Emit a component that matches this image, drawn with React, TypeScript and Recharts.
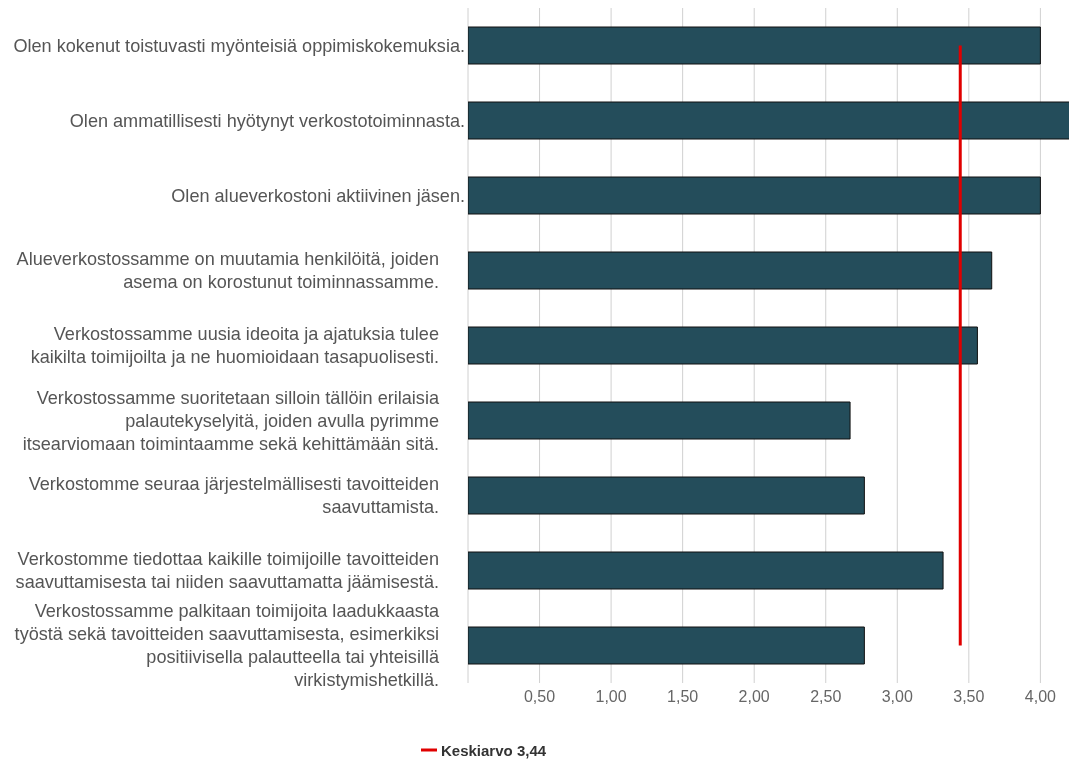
import * as React from 'react';
import { ComposedChart, Bar, Line, XAxis, YAxis, CartesianGrid, Legend } from 'recharts';

// labels with line breaks as in the original
const labels = [
  "Olen kokenut toistuvasti myönteisiä oppimiskokemuksia.",
  "Olen ammatillisesti hyötynyt verkostotoiminnasta.",
  "Olen alueverkostoni aktiivinen jäsen.",
  "Alueverkostossamme on muutamia henkilöitä, joiden\nasema on korostunut toiminnassamme.",
  "Verkostossamme uusia ideoita ja ajatuksia tulee\nkaikilta toimijoilta ja ne huomioidaan tasapuolisesti.",
  "Verkostossamme suoritetaan silloin tällöin erilaisia\npalautekyselyitä, joiden avulla pyrimme\nitsearviomaan toimintaamme sekä kehittämään sitä.",
  "Verkostomme seuraa järjestelmällisesti tavoitteiden\nsaavuttamista.",
  "Verkostomme tiedottaa kaikille toimijoille tavoitteiden\nsaavuttamisesta tai niiden saavuttamatta jäämisestä.",
  "Verkostossamme palkitaan toimijoita laadukkaasta\ntyöstä sekä tavoitteiden saavuttamisesta, esimerkiksi\npositiivisella palautteella tai yhteisillä\nvirkistymishetkillä.",
];

const values = [4.0, 4.25, 4.0, 3.66, 3.56, 2.67, 2.77, 3.32, 2.77];
const mean = 3.44;
const ticks = [0, 0.5, 1, 1.5, 2, 2.5, 3, 3.5, 4];

const data = labels.map((name, i) => ({ name, value: values[i], mean }));

const fmt = (v: number) => (v === 0 ? '' : v.toFixed(2).replace('.', ','));

const FONT = 'Liberation Sans, Arial, sans-serif';

const YTick = (props: any) => {
  const { y, payload } = props;
  const lines: string[] = String(payload.value).split('\n');
  const lh = 23;
  const endX = lines.length === 1 ? 457 : 431;
  const startY = y - ((lines.length - 1) * lh) / 2;
  return (
    <text x={endX} y={startY} textAnchor="end" dominantBaseline="central"
      fontSize={18.1} fill="#555" fontFamily={FONT}>
      {lines.map((l, i) => (
        <tspan key={i} x={endX} dy={i === 0 ? 0 : lh}>{l}</tspan>
      ))}
    </text>
  );
};

const LegendContent = () => (
  <div style={{ display: 'flex', alignItems: 'center', height: 20, paddingLeft: 413 }}>
    <svg width={16} height={4} style={{ marginRight: 4 }}>
      <line x1={0} y1={2} x2={16} y2={2} stroke="#e00000" strokeWidth={3} />
    </svg>
    <span style={{ fontFamily: FONT, fontSize: 15, fontWeight: 'bold', color: '#333' }}>
      Keskiarvo 3,44
    </span>
  </div>
);

const App = () => {
  return (
    // fixed so the slightly wide chart never triggers scrollbars
    <div style={{ position: 'fixed', left: 8, top: 8 }}>
      <ComposedChart
        width={1061}
        height={752}
        data={data}
        layout="vertical"
        margin={{ top: 0, right: 0, left: 0, bottom: 0 }}
      >
        <CartesianGrid horizontal={false} stroke="#d0d0d0" syncWithTicks />
        <XAxis
          type="number"
          domain={[0, 4.2]}
          ticks={ticks}
          tickFormatter={fmt}
          axisLine={false}
          tickLine={false}
          height={57}
          tick={{ fontSize: 16, fill: '#666', fontFamily: FONT }}
          allowDataOverflow
        />
        <YAxis
          type="category"
          dataKey="name"
          width={460}
          axisLine={false}
          tickLine={false}
          tick={<YTick />}
          interval={0}
        />
        <Bar dataKey="value" fill="#244d5b" stroke="#111" strokeWidth={1} barSize={37} isAnimationActive={false} />
        <Line dataKey="mean" stroke="#e00000" strokeWidth={3} dot={false} activeDot={false} isAnimationActive={false} />
        <Legend content={<LegendContent />} verticalAlign="bottom" height={20} />
      </ComposedChart>
    </div>
  );
};

export default App;
